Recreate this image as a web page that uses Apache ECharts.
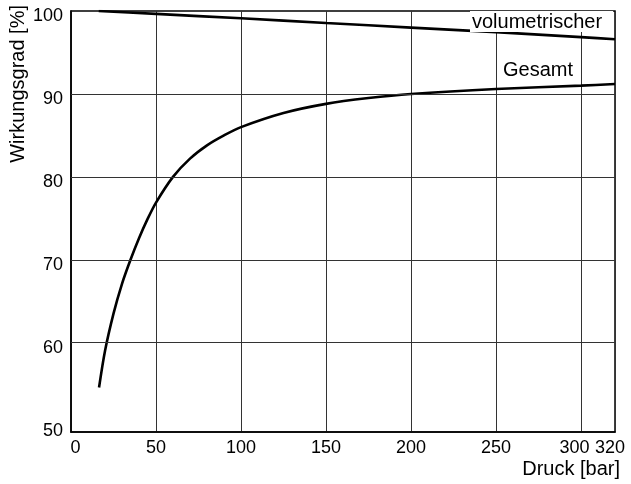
<!DOCTYPE html>
<html>
<head>
<meta charset="utf-8" />
<script src="https://cdn.jsdelivr.net/npm/echarts@6/dist/echarts.min.js"></script>
<style>
  html, body { margin: 0; padding: 0; background: #fff; }
  #chart { width: 631px; height: 484px; }
</style>
</head>
<body>
<div id="chart"></div>
<script>
// Druck [bar] vs Wirkungsgrad [%]
const volDruck = [16.3, 50, 100, 150, 200, 250, 300, 320];
const volWert = [100, 99.65, 99.12, 98.55, 98.0, 97.45, 96.85, 96.6];

const gesDruck = [16.5, 20, 25, 30, 35, 40, 45, 50, 60, 70, 80, 90, 100, 125, 150, 175, 200, 250, 300, 320];
const gesWert = [54.6, 59.0, 63.5, 67.1, 70.0, 72.6, 74.9, 76.9, 80.0, 82.2, 83.8, 85.0, 86.0, 87.7, 88.8, 89.5, 90.0, 90.6, 91.0, 91.2];

const yLabels = [50, 60, 70, 80, 90, 100];
const yGrid = [60, 70, 80, 90];

const font = "Liberation Sans, Arial, sans-serif";

const chart = echarts.init(document.getElementById("chart"));

const pairs = (xs, ys) => xs.map((x, i) => [x, ys[i]]);

const numStyle = (pad) => ({ fontSize: 18, fontFamily: font, color: "#000", padding: pad });

chart.setOption({
  animation: false,
  textStyle: { fontFamily: font },
  grid: {
    left: 71,
    right: 16,
    top: 11,
    bottom: 52,
    show: true,
    borderColor: "#000",
    borderWidth: 1.5,
  },
  xAxis: {
    type: "value",
    min: 0,
    max: 320,
    interval: 50,
    axisLine: { show: true, onZero: false, lineStyle: { color: "#000", width: 1.5 } },
    axisTick: { show: false },
    splitLine: { show: true, lineStyle: { color: "#333", width: 1 } },
    axisLabel: {
      color: "#000",
      fontSize: 18,
      fontFamily: font,
      margin: 7,
      formatter: (v) => {
        if (v === 0) return "{z|0}";
        if (v === 300) return "{a|300}";
        if (v === 320) return "{b|320}";
        return String(v);
      },
      rich: {
        z: numStyle([0, 0, 0, 9]),
        a: numStyle([0, 13, 0, 0]),
        b: numStyle([0, 10, 0, 0]),
      },
    },
  },
  yAxis: {
    type: "value",
    min: 49.23,
    max: 100,
    axisLine: { show: true, onZero: false, lineStyle: { color: "#000", width: 1.5 } },
    axisTick: { show: false },
    splitLine: { show: false },
    axisLabel: {
      customValues: yLabels,
      color: "#000",
      fontSize: 18,
      fontFamily: font,
      margin: 8,
      formatter: (v) => "{v|" + v + "}",
      rich: { v: numStyle([10, 0, 0, 0]) },
    },
  },
  series: [
    {
      name: "volumetrischer",
      type: "line",
      data: pairs(volDruck, volWert),
      showSymbol: false,
      smooth: 0.2,
      lineStyle: { color: "#000", width: 2.6 },
      markLine: {
        silent: true,
        symbol: "none",
        label: { show: false },
        lineStyle: { color: "#333", width: 1, type: "solid" },
        data: yGrid.map((v) => ({ yAxis: v })),
      },
      z: 3,
    },
    {
      name: "Gesamt",
      type: "line",
      data: pairs(gesDruck, gesWert),
      showSymbol: false,
      smooth: 0.3,
      lineStyle: { color: "#000", width: 2.6 },
      z: 3,
    },
  ],
  graphic: [
    {
      type: "text",
      x: 470,
      y: 11,
      z: 100,
      style: {
        text: "volumetrischer",
        font: "20px " + font,
        fill: "#000",
        backgroundColor: "#fff",
        padding: [1, 11, 0, 2],
        lineHeight: 20,
      },
    },
    {
      type: "text",
      x: 503,
      y: 70,
      z: 100,
      style: {
        text: "Gesamt",
        font: "20px " + font,
        fill: "#000",
        verticalAlign: "middle",
      },
    },
    {
      type: "text",
      x: 620,
      y: 469,
      z: 100,
      style: {
        text: "Druck [bar]",
        font: "20px " + font,
        fill: "#000",
        align: "right",
        verticalAlign: "middle",
      },
    },
    {
      type: "text",
      x: 18,
      y: 5,
      rotation: Math.PI / 2,
      z: 100,
      style: {
        text: "Wirkungsgrad [%]",
        font: "20px " + font,
        fill: "#000",
        align: "right",
        verticalAlign: "middle",
      },
    },
  ],
});
</script>
</body>
</html>
